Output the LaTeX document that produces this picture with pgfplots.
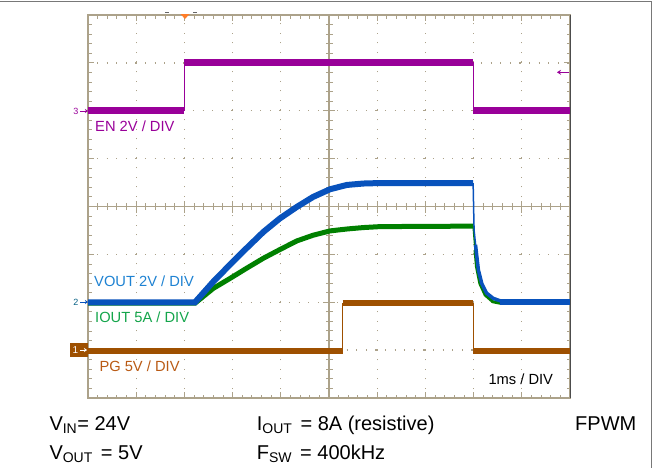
\documentclass[border=0pt]{standalone}
\usepackage{pgfplots}
\pgfplotsset{compat=1.18}
\usepackage{fontspec}
\setmainfont{Liberation Sans}
\usetikzlibrary{arrows.meta}
\definecolor{gridc}{RGB}{172,162,138}
\definecolor{enc}{RGB}{153,0,153}
\definecolor{voc}{RGB}{8,82,188}
\definecolor{ioc}{RGB}{0,128,0}
\definecolor{pgc}{RGB}{158,80,0}
\definecolor{volab}{RGB}{30,130,210}
\definecolor{iolab}{RGB}{20,165,75}
\definecolor{pglab}{RGB}{185,90,20}
\definecolor{trig}{RGB}{255,125,40}
\definecolor{frame}{RGB}{120,120,120}
\begin{document}
\begin{tikzpicture}
\useasboundingbox (0,-468bp) rectangle (656bp,0);
\begin{axis}[
  at={(88bp,-398bp)}, anchor=south west,
  width=482bp, height=383bp, scale only axis,
  xmin=0, xmax=10, ymin=0, ymax=8,
  xtick={0,...,10}, ytick={0,...,8},
  xticklabels={}, yticklabels={},
  minor x tick num=4, minor y tick num=4,
  tick align=inside,
  major tick length=6bp, minor tick length=3.5bp,
  every tick/.style={gridc, line width=0.9bp},
  axis line style={gridc, line width=1.2bp},
  grid=major,
  major grid style={gridc, line width=1.3bp, dash pattern=on 1.3bp off 8.3bp, dash phase=0.65bp},
]
% centre crosshair with ticks
\draw[gridc, line width=1.2bp] (0,4) -- (10,4);
\draw[gridc, line width=1.2bp] (5,0) -- (5,8);
\draw[gridc, line width=7bp, dash pattern=on 1bp off 8.64bp, dash phase=0.5bp] (0,4) -- (10,4);
\draw[gridc, line width=7bp, dash pattern=on 1bp off 8.575bp, dash phase=0.5bp] (5,0) -- (5,8);
\draw[gridc, line width=12bp, dash pattern=on 1.2bp off 47bp, dash phase=0.6bp] (0,4) -- (10,4);
\draw[gridc, line width=12bp, dash pattern=on 1.2bp off 46.7bp, dash phase=0.6bp] (5,0) -- (5,8);

% EN
\addplot[enc, line width=1.2bp] coordinates {(0,6) (2,6) (2,7.01) (7.99,7.01) (7.99,6) (10,6)};
\addplot[enc, line width=7bp, unbounded coords=jump] coordinates {(0,6) (2,6) (nan,nan) (2,7.01) (7.99,7.01) (nan,nan) (7.99,6) (10,6)};

% PG
\addplot[pgc, line width=1.2bp] coordinates {(0,0.99) (5.28,0.99) (5.28,1.98) (7.99,1.98) (7.99,0.99) (10,0.99)};
\addplot[pgc, line width=6bp, unbounded coords=jump] coordinates {(0,0.99) (5.28,0.99) (nan,nan) (5.28,1.98) (7.99,1.98) (nan,nan) (7.99,0.99) (10,0.99)};

% IOUT
\addplot[ioc, line width=5bp] coordinates {(0,1.98) (2.22,1.98) (2.60,2.29) (2.95,2.50) (3.29,2.71) (3.64,2.92) (3.98,3.10) (4.33,3.28) (4.67,3.40) (5.02,3.49) (5.37,3.53) (5.71,3.56) (6.06,3.58) (7.99,3.59)};
\addplot[ioc, line width=1.5bp] coordinates {(7.99,3.59) (8.03,3.09) (8.06,2.74)};
\addplot[ioc, line width=3bp] coordinates {(8.03,3.09) (8.06,2.74) (8.13,2.39) (8.24,2.15) (8.40,2.01) (8.55,1.98) (10,1.98)};

% VOUT
\addplot[voc, line width=6bp] coordinates {(0,2.0) (2.22,2.0) (2.60,2.43) (2.95,2.79) (3.29,3.13) (3.64,3.47) (3.98,3.75) (4.33,3.99) (4.67,4.20) (5.02,4.36) (5.37,4.45) (5.71,4.48) (6.06,4.49) (7.99,4.49)};
\addplot[voc, line width=1.5bp] coordinates {(7.99,4.49) (8.01,3.51) (8.06,3.02)};
\addplot[voc, line width=3.5bp] coordinates {(8.04,3.2) (8.06,3.02) (8.10,2.67) (8.17,2.39) (8.27,2.19) (8.41,2.08) (8.61,2.01)};
\addplot[voc, line width=6bp] coordinates {(8.55,2.0) (10,2.0)};
\end{axis}

% darker right border
\draw[black!70, line width=1bp] (570bp,-15bp) -- (570bp,-398bp);
% outer frame
\draw[frame, line width=1.3bp] (0,-1.7bp) -- (651.7bp,-1.7bp) -- (651.7bp,-468bp);

% trigger marker and level
\fill[trig] (180.5bp,-14bp) -- (189.5bp,-14bp) -- (185bp,-19bp) -- cycle;
\draw[black!60, line width=1bp] (165bp,-12.7bp) -- (168.5bp,-12.7bp);
\draw[black!60, line width=1bp] (193bp,-12.7bp) -- (197bp,-12.7bp);
\draw[enc, line width=1.3bp, -{Stealth[length=4bp,width=5bp]}] (569bp,-72.3bp) -- (557bp,-72.3bp);

% channel markers
\node[anchor=east, text=enc, inner sep=0pt, font=\fontsize{9bp}{10bp}\selectfont] at (78.5bp,-111bp) {3};
\draw[enc, line width=1bp, -{Stealth[length=3bp,width=4bp]}] (80bp,-111bp) -- (88bp,-111bp);
\node[anchor=east, text=voc!70!ioc, inner sep=0pt, font=\fontsize{9bp}{10bp}\selectfont] at (78.5bp,-302bp) {2};
\draw[voc, line width=1bp, -{Stealth[length=3bp,width=4bp]}] (80bp,-302bp) -- (88bp,-302bp);
\fill[pgc] (70bp,-343bp) rectangle (88bp,-357bp);
\node[anchor=east, text=white, inner sep=0pt, font=\fontsize{10bp}{11bp}\selectfont] at (78.5bp,-350bp) {1};
\draw[white, line width=1bp, -{Stealth[length=3bp,width=4bp]}] (80bp,-350bp) -- (87bp,-350bp);

% channel labels
\begin{scope}[every node/.style={anchor=base west, inner sep=0pt, font=\fontsize{14.7bp}{17bp}\selectfont}]
\node[text=enc] at (95bp,-131.7bp) {EN 2V / DIV};
\node[text=volab] at (94bp,-286bp) {VOUT 2V / DIV};
\node[text=iolab] at (95bp,-322.7bp) {IOUT 5A / DIV};
\node[text=pglab] at (99.3bp,-371.7bp) {PG 5V / DIV};
\node[text=black] at (488.3bp,-384bp) {1ms / DIV};
\end{scope}

% conditions
\begin{scope}[every node/.style={anchor=base west, inner sep=0pt, font=\fontsize{20bp}{22bp}\selectfont}]
\node at (49.3bp,-430bp) {V\textsubscript{IN}= 24V};
\node at (49.3bp,-459.3bp) {V\textsubscript{OUT}\hspace{2.5bp} = 5V};
\node at (256.7bp,-430bp) {I\textsubscript{OUT}\hspace{2.5bp} = 8A (resistive)};
\node at (256.7bp,-459.3bp) {F\textsubscript{SW}\hspace{2.5bp} = 400kHz};
\node at (575bp,-430bp) {FPWM};
\end{scope}
\end{tikzpicture}
\end{document}
